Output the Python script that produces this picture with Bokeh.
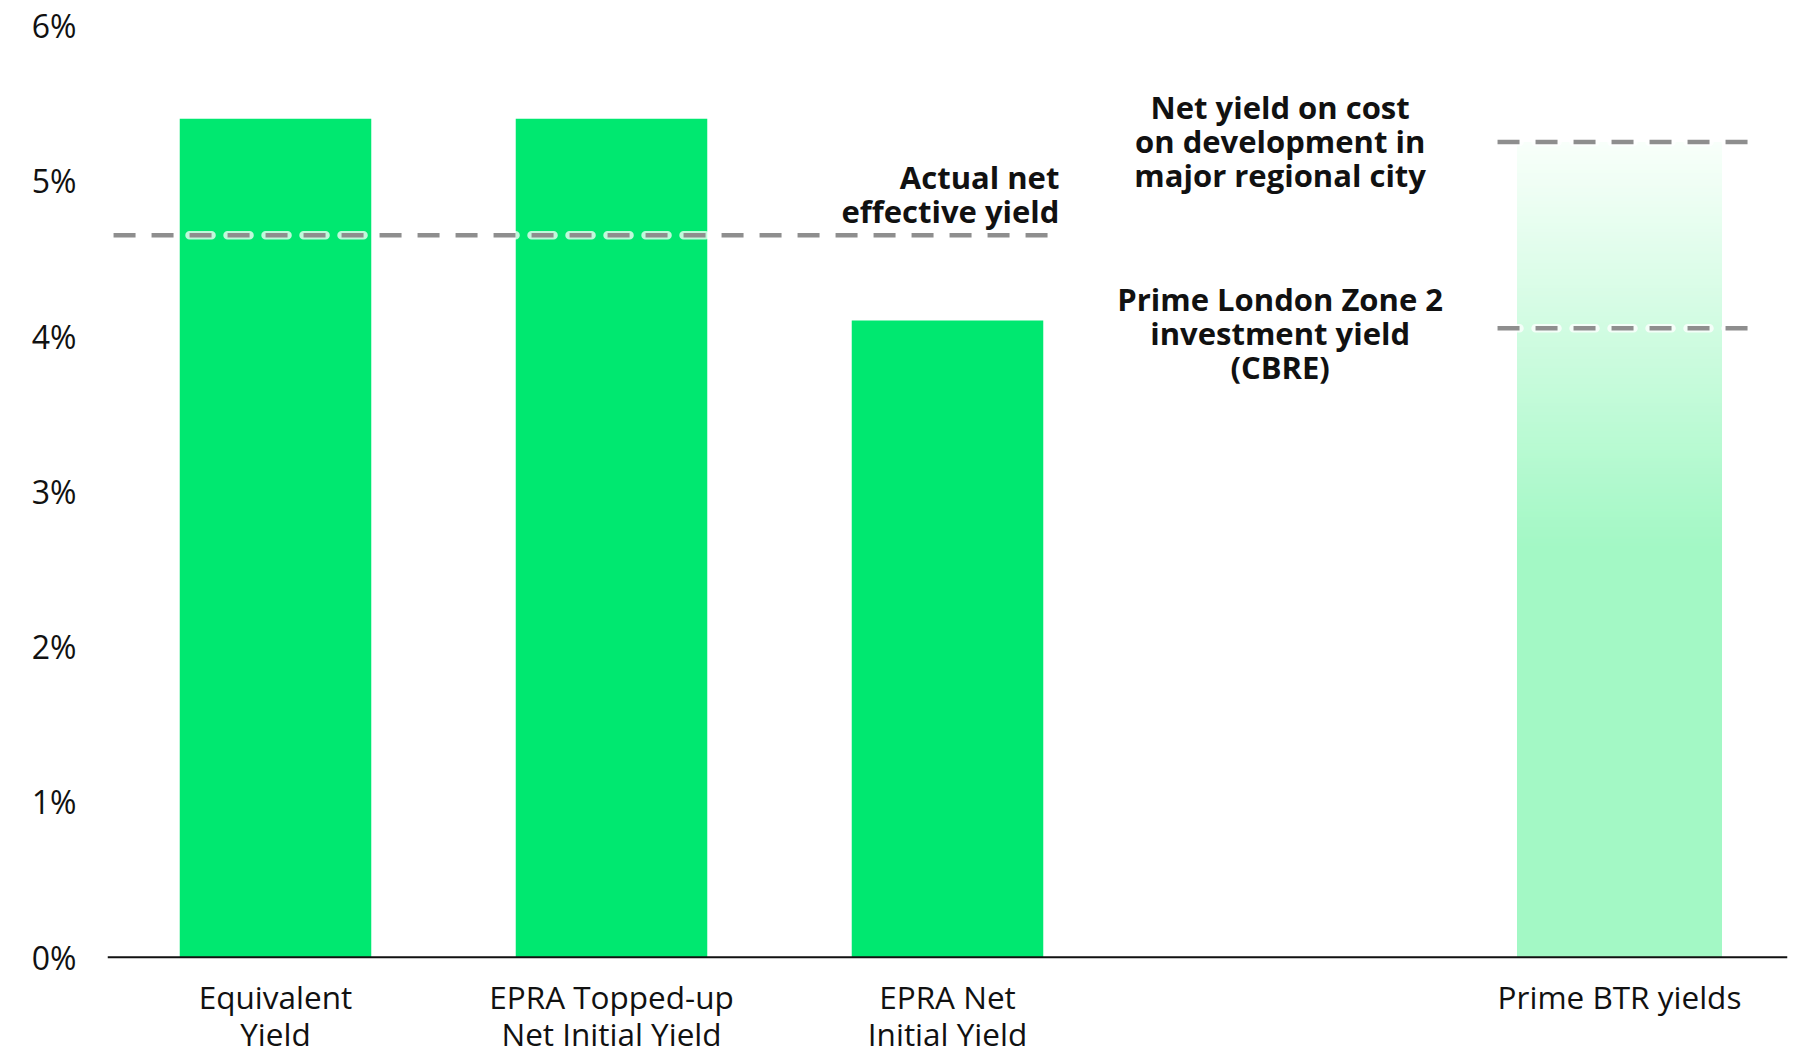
from bokeh.plotting import figure
from bokeh.models import FixedTicker, ColumnDataSource, Span
from bokeh.core.properties import value
from bokeh.embed import file_html
from bokeh.resources import INLINE

# ---------------- data ----------------
categories = [["Equivalent", "Yield"], ["EPRA Topped-up", "Net Initial Yield"],
              ["EPRA Net", "Initial Yield"], ["Prime BTR yields"]]
cat_pos = [0, 1, 2, 4]
bar_yields = [5.4, 5.4, 4.1]
btr_yield = 5.25
ref_labels = [["Actual net", "effective yield"],
              ["Net yield on cost", "on development in", "major regional city"],
              ["Prime London Zone 2", "investment yield", "(CBRE)"]]
ref_values = [4.65, 5.25, 4.05]
y_ticks = [0, 1, 2, 3, 4, 5, 6]
y_tick_labels = ["0%", "1%", "2%", "3%", "4%", "5%", "6%"]

# ---------------- style ----------------
FONT = "Open Sans"
GREEN = "#00E870"
LIGHT_GREEN = "#A3F8C5"
TOP_WHITE = "#F8FFFA"
DASH_GRAY = "#8E8E8E"
Y_BOTTOM = -0.6073   # room under the baseline for the category labels

p = figure(width=1795, height=1051, x_range=(-0.5, 4.5), y_range=(Y_BOTTOM, 6),
           output_backend="svg", toolbar_location=None,
           min_border_left=107, min_border_right=8, min_border_top=25,
           min_border_bottom=0)
p.outline_line_color = None
p.xgrid.visible = False
p.ygrid.visible = False
p.xaxis.visible = False
p.background_fill_color = "white"
p.border_fill_color = "white"

# solid bars
p.vbar(x=cat_pos[:3], top=bar_yields, width=0.57, bottom=0,
       fill_color=GREEN, line_color=None)

# gradient bar (Prime BTR yields)
def hex2rgb(h):
    h = h.lstrip("#")
    return tuple(int(h[i:i + 2], 16) for i in (0, 2, 4))

solid_to = 2.65
n = 130
c0 = hex2rgb(TOP_WHITE)
c1 = hex2rgb(LIGHT_GREEN)
tops, cols = [], []
for i in range(n + 1):
    t = i / n
    tops.append(btr_yield - (btr_yield - solid_to) * t)
    rgb = tuple(round(c0[k] + (c1[k] - c0[k]) * t) for k in range(3))
    cols.append("#%02x%02x%02x" % rgb)
p.vbar(x=[cat_pos[3]] * len(tops), top=tops, bottom=0, width=0.61,
       fill_color=cols, line_color=None)

# baseline (x axis line)
p.add_layout(Span(location=0, dimension="width", line_color="#111111",
                  line_width=2))

# reference dashed lines
seg_x0 = [-0.482, 3.637, 3.637]
seg_x1 = [2.336, 4.384, 4.384]
p.segment(x0=seg_x0, x1=seg_x1, y0=ref_values, y1=ref_values,
          line_color="white", line_alpha=0.75, line_width=8.5,
          line_dash="22 16", line_cap="round")
p.segment(x0=seg_x0, x1=seg_x1, y0=ref_values, y1=ref_values,
          line_color=DASH_GRAY, line_width=4.5, line_dash="22 16",
          line_cap="butt")

# annotations
ann_text, ann_x, ann_y, ann_dy, ann_align = [], [], [], [], []
label_x = [2.333, 2.99, 2.99]
label_align = ["right", "center", "center"]
label_dy = [[-58, -24], [-35, -1, 33], [-29, 5, 39]]
for j, lines in enumerate(ref_labels):
    for k, line in enumerate(lines):
        ann_text.append(line)
        ann_x.append(label_x[j])
        ann_y.append(ref_values[j])
        ann_dy.append(label_dy[j][k])
        ann_align.append(label_align[j])
src = ColumnDataSource(dict(x=ann_x, y=ann_y, text=ann_text, dy=ann_dy,
                            align=ann_align))
p.text(x="x", y="y", text="text", y_offset="dy", text_align="align",
       text_baseline="alphabetic", text_font=value(FONT),
       text_font_style="bold", text_font_size="31px", text_color="#111111",
       source=src)

# category labels under the baseline
row_offsets = [39, 76]
cx, cy, ctext, cdy = [], [], [], []
for pos, lines in zip(cat_pos, categories):
    for k, line in enumerate(lines):
        cx.append(pos)
        cy.append(0)
        ctext.append(line)
        cdy.append(row_offsets[k])
csrc = ColumnDataSource(dict(x=cx, y=cy, text=ctext, dy=cdy))
p.text(x="x", y="y", text="text", y_offset="dy", text_align="center",
       text_baseline="alphabetic", text_font=value(FONT),
       text_font_size="31.5px", text_color="#111111", source=csrc)

# y axis
p.yaxis.ticker = FixedTicker(ticks=y_ticks)
p.yaxis.major_label_overrides = {t: l for t, l in zip(y_ticks, y_tick_labels)}
p.yaxis.axis_line_color = None
p.yaxis.major_tick_line_color = None
p.yaxis.minor_tick_line_color = None
p.yaxis.major_tick_out = 0
p.yaxis.major_label_standoff = 31
p.yaxis.major_label_text_font = FONT
p.yaxis.major_label_text_font_size = "32px"
p.yaxis.major_label_text_color = "#111111"

open("out.html", "w").write(file_html(p, INLINE))
